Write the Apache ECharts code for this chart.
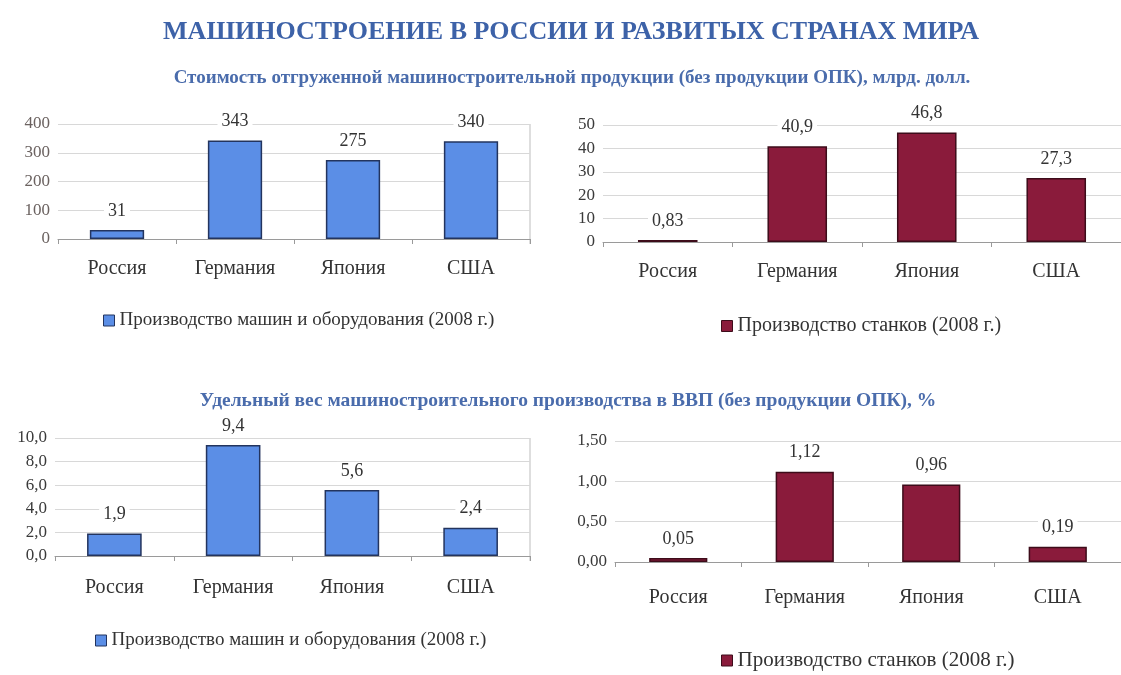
<!DOCTYPE html>
<html>
<head>
<meta charset="utf-8">
<script src="https://cdn.jsdelivr.net/npm/echarts@6/dist/echarts.min.js"></script>
<style>
  html, body { margin: 0; padding: 0; background: #fff; }
  #chart { width: 1121px; height: 675px; }
</style>
</head>
<body>
<div id="chart"></div>
<script>
// Countries shown on every panel
const countries = ['Россия', 'Германия', 'Япония', 'США'];

// Shipped engineering output, bn USD (2008)
const machinesValue = [31, 343, 275, 340];
const machineToolsValue = [0.83, 40.9, 46.8, 27.3];

// Share of engineering in GDP, % (2008)
const machinesShare = [1.9, 9.4, 5.6, 2.4];
const machineToolsShare = [0.05, 1.12, 0.96, 0.19];

// Series names
const nameMachines = 'Производство машин и оборудования (2008 г.)';
const nameTools = 'Производство станков (2008 г.)';

// Axis ranges: [max, interval, decimals]
const axisSpecs = [
  [400, 100, 0],
  [50, 10, 0],
  [10, 2, 1],
  [1.5, 0.5, 2]
];

const mainTitle = 'МАШИНОСТРОЕНИЕ В РОССИИ И РАЗВИТЫХ СТРАНАХ МИРА';
const subtitleTop = 'Стоимость отгруженной машиностроительной продукции (без продукции ОПК), млрд. долл.';
const subtitleBottom = 'Удельный вес машиностроительного производства в ВВП (без продукции ОПК), %';

const SERIF = '"Liberation Serif", "DejaVu Serif", serif';
const BLUE = '#5b8ee6';
const BLUE_EDGE = '#23345e';
const RED = '#8a1b3b';
const RED_EDGE = '#3d0c1a';

const comma = (v, d) => Number(v).toFixed(d).replace('.', ',');

const grids = [
  { left: 58, right: 591, top: 124, height: 115 },
  { left: 603, right: 0, top: 125, height: 117 },
  { left: 55, right: 591, top: 438, height: 118 },
  { left: 615, right: 0, top: 441, height: 121 }
];

const catMargins = [20, 20, 22, 26];

const panels = [
  { data: machinesValue, name: nameMachines, color: BLUE, edge: BLUE_EDGE, labelDec: 0 },
  { data: machineToolsValue, name: nameTools, color: RED, edge: RED_EDGE, labelDec: null },
  { data: machinesShare, name: nameMachines, color: BLUE, edge: BLUE_EDGE, labelDec: 1 },
  { data: machineToolsShare, name: nameTools, color: RED, edge: RED_EDGE, labelDec: 2 }
];

const xAxes = grids.map((g, i) => ({
  type: 'category',
  gridIndex: i,
  data: countries,
  axisLine: { lineStyle: { color: '#9a9a9a' } },
  axisTick: { show: true, lineStyle: { color: '#9a9a9a' }, length: 5 },
  axisLabel: { fontFamily: SERIF, fontSize: 20, color: '#333', margin: catMargins[i] }
}));

const yAxes = axisSpecs.map((s, i) => ({
  type: 'value',
  gridIndex: i,
  min: 0,
  max: s[0],
  interval: s[1],
  axisLine: { show: false },
  axisTick: { show: false },
  splitLine: { lineStyle: { color: '#d8d8d8' } },
  axisLabel: {
    fontFamily: SERIF, fontSize: 17, color: i === 0 ? '#6b6260' : '#3a3a3a', margin: 8,
    formatter: v => comma(v, s[2])
  }
}));

const series = panels.map((p, i) => ({
  type: 'bar',
  name: p.name,
  xAxisIndex: i,
  yAxisIndex: i,
  data: p.data,
  barWidth: '46%',
  itemStyle: { color: p.color, borderColor: p.edge, borderWidth: 1.5 },
  label: {
    show: true,
    position: 'top',
    distance: 10,
    fontFamily: SERIF,
    fontSize: 18,
    color: '#333',
    backgroundColor: '#fff',
    padding: [0, 4],
    formatter: prm => p.labelDec === null ? String(prm.value).replace('.', ',') : comma(prm.value, p.labelDec)
  }
}));

const legendPos = [
  { left: 98, top: 306, size: 19 },
  { left: 716, top: 311, size: 20 },
  { left: 90, top: 626, size: 19 },
  { left: 716, top: 645, size: 21 }
];

const legends = panels.map((p, i) => ({
  data: [{ name: p.name }],
  left: legendPos[i].left,
  top: legendPos[i].top,
  itemWidth: 11,
  itemHeight: 11,
  itemGap: 4,
  icon: 'rect',
  selectedMode: false,
  textStyle: { fontFamily: SERIF, fontSize: legendPos[i].size, color: '#333' },
  itemStyle: { borderColor: p.edge, borderWidth: 1 }
}));

const chart = echarts.init(document.getElementById('chart'));
chart.setOption({
  backgroundColor: '#ffffff',
  animation: false,
  title: [
    {
      text: mainTitle, left: 566, textAlign: 'center', top: 14,
      textStyle: { fontFamily: SERIF, fontWeight: 'bold', fontSize: 26, color: '#3d62a8' }
    },
    {
      text: subtitleTop, left: 567, textAlign: 'center', top: 64,
      textStyle: { fontFamily: SERIF, fontWeight: 'bold', fontSize: 19, color: '#4a6cac' }
    },
    {
      text: subtitleBottom, left: 563, textAlign: 'center', top: 386,
      textStyle: { fontFamily: SERIF, fontWeight: 'bold', fontSize: 19.5, color: '#4a6cac' }
    }
  ],
  grid: grids,
  xAxis: xAxes,
  yAxis: yAxes,
  legend: legends,
  series: series,
  graphic: [
    // plot frames on the left-hand panels
    { type: 'line', shape: { x1: 530, y1: 124, x2: 530, y2: 244 }, style: { stroke: '#bdbdbd', lineWidth: 1 } },
    { type: 'line', shape: { x1: 530, y1: 438, x2: 530, y2: 561 }, style: { stroke: '#bdbdbd', lineWidth: 1 } }
  ]
});
</script>
</body>
</html>
